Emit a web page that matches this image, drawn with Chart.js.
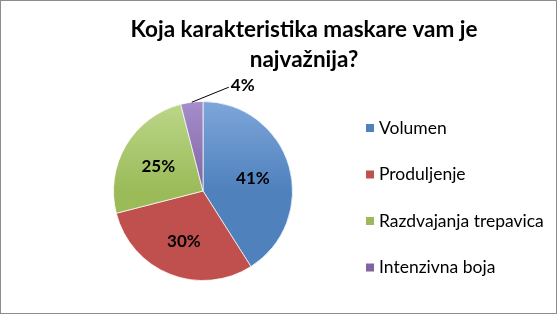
<!DOCTYPE html>
<html><head><meta charset="utf-8">
<script src="https://cdn.jsdelivr.net/npm/chart.js@4"></script>
<style>html,body{margin:0;padding:0;background:#fff}#w{width:557px;height:314px}</style>
</head><body><div id="w"><canvas id="c" width="557" height="314"></canvas></div>
<script>
const titleLines = ["Koja karakteristika maskare vam je", "najvažnija?"];
const categories = ["Volumen", "Produljenje", "Razdvajanja trepavica", "Intenzivna boja"];
const values = [41, 30, 25, 4];
const colors = ["#4F81BD", "#C0504D", "#9BBB59", "#8064A2"];
const lightColors = ["#7EA6DA", "#E07B78", "#BCD78A", "#A58ECB"];
const FONT = "Lato, 'Open Sans', sans-serif";

function grad(ctx, i) {
  const c = ctx.chart; const a = c.chartArea;
  if (!a) return colors[i];
  const g = c.ctx.createLinearGradient(0, a.top, 0, a.bottom);
  g.addColorStop(0, lightColors[i]);
  g.addColorStop(0.5, colors[i]);
  g.addColorStop(1, colors[i]);
  return g;
}

const deco = {
  id: 'deco',
  afterDraw(chart) {
    const ctx = chart.ctx;
    ctx.save();
    ctx.strokeStyle = '#8c8c8c'; ctx.lineWidth = 1;
    ctx.strokeRect(0.5, 0.5, 556, 313);
    ctx.fillStyle = '#000'; ctx.textAlign = 'center'; ctx.textBaseline = 'middle';
    ctx.font = "bold 22.5px " + FONT;
    ctx.fillText(titleLines[0], 304, 30);
    ctx.fillText(titleLines[1], 304, 60);
    const meta = chart.getDatasetMeta(0);
    const total = values.reduce((s, v) => s + v, 0);
    ctx.font = "bold 17px " + FONT;
    meta.data.forEach((arc, i) => {
      const p = arc.getProps(['x', 'y', 'startAngle', 'endAngle', 'outerRadius']);
      const mid = (p.startAngle + p.endAngle) / 2;
      const pct = Math.round(values[i] / total * 100) + '%';
      if (values[i] / total < 0.08) {
        const ex = p.x + Math.cos(mid) * p.outerRadius, ey = p.y + Math.sin(mid) * p.outerRadius;
        ctx.strokeStyle = '#000'; ctx.lineWidth = 1;
        ctx.beginPath(); ctx.moveTo(ex, ey); ctx.lineTo(ex + 37, ey - 15); ctx.stroke();
        ctx.textAlign = 'left';
        ctx.fillText(pct, ex + 39, ey - 17);
      } else {
        const r = p.outerRadius * 0.58;
        ctx.textAlign = 'center';
        ctx.fillText(pct, p.x + Math.cos(mid) * r, p.y + Math.sin(mid) * r + 2);
      }
    });
    ctx.font = "17.5px " + FONT; ctx.textAlign = 'left';
    categories.forEach((cat, i) => {
      const y = 128 + i * 46.5;
      ctx.fillStyle = colors[i];
      ctx.fillRect(366, y - 4, 8, 8);
      ctx.fillStyle = '#000';
      ctx.fillText(cat, 379, y);
    });
    ctx.restore();
  }
};

new Chart(document.getElementById('c'), {
  type: 'pie',
  data: {
    labels: categories,
    datasets: [{
      data: values,
      backgroundColor: (ctx) => grad(ctx, ctx.dataIndex),
      borderColor: 'rgba(255,255,255,0.7)',
      borderWidth: 1
    }]
  },
  options: {
    responsive: false,
    animation: false,
    layout: { padding: { left: 113, right: 264, top: 101, bottom: 33 } },
    plugins: { legend: { display: false }, title: { display: false }, tooltip: { enabled: false } }
  },
  plugins: [deco]
});
</script></body></html>
